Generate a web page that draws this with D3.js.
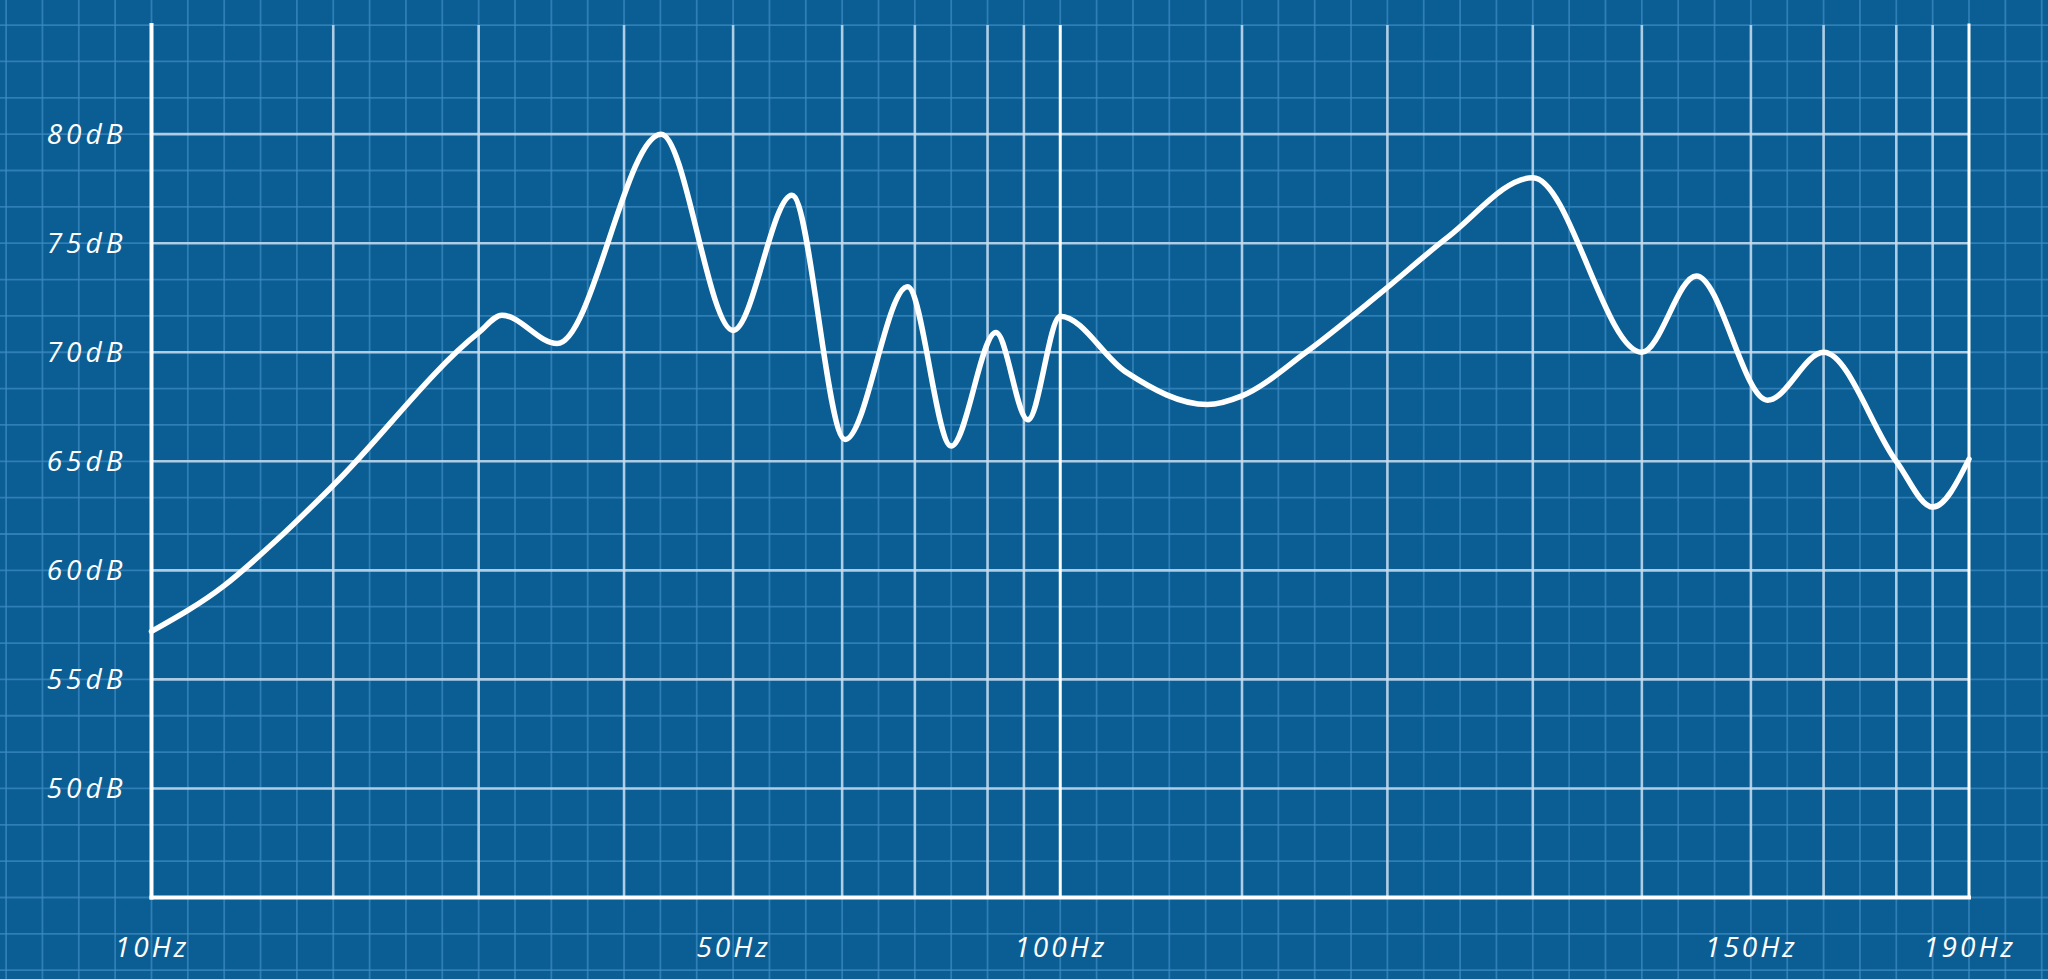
<!DOCTYPE html>
<html>
<head>
<meta charset="utf-8">
<script src="https://cdn.jsdelivr.net/npm/d3@7"></script>
<style>
  html, body { margin: 0; padding: 0; background: #0a5e93; overflow: hidden; }
  svg { display: block; }
  text { font-family: "Open Sans", "Noto Sans", sans-serif; font-style: italic; fill: #ffffff; }
</style>
</head>
<body>
<svg id="chart" width="2048" height="979"></svg>
<script>
// ---- data ----
const freqTicks   = [10, 20, 30, 40, 50, 60, 70, 80, 90, 100, 110, 120, 130, 140, 150, 160, 170, 180, 190];
const freqLabels  = [10, 50, 100, 150, 190];
const dbTicks     = [50, 55, 60, 65, 70, 75, 80];
const freqs = [10, 14, 16.9, 20, 30, 31.6, 35.4, 43.4, 50, 55.4, 60.4, 69, 75, 82.3, 91.1, 100, 103.6, 108.1, 110, 114.4, 119.5, 124.2, 130, 140, 145, 152.3, 160, 170, 180, 190];
const levels = [57.2, 59.3, 61.4, 63.9, 70.9, 71.7, 70.4, 80, 71, 77.2, 66, 73, 65.7, 70.9, 66.9, 71.65, 69.1, 67.6, 68, 70, 72.7, 75.3, 78, 70, 73.5, 67.8, 70, 65.0, 62.9, 65.1];

// ---- layout ----
const W = 2048, H = 979;
const cell = 36.35;
const plotLeft = 151.5;
// cell offsets of the frequency paper rulings (semi-log style paper)
const paperCells = [0, 5, 9, 13, 16, 19, 21, 23, 24, 25, 30, 34, 38, 41, 44, 46, 48, 49, 50];
const x = d3.scaleLinear().domain(freqTicks).range(paperCells.map(c => plotLeft + c * cell));
const plotBottom = 897.5;
const y = d3.scaleLinear().domain([45, 85]).range([plotBottom, plotBottom - 24 * cell]);
const plotRight = x(190), plotTop = y(85);

const svg = d3.select("#chart");
svg.append("rect").attr("width", W).attr("height", H).attr("fill", "#0a5e93");

// background blueprint grid
const bg = svg.append("g").attr("stroke", "#3f8cc4").attr("stroke-opacity", 0.7).attr("stroke-width", 1.8);
const kx0 = Math.ceil(-plotLeft / cell), kx1 = Math.floor((W - plotLeft) / cell);
bg.selectAll("line.v").data(d3.range(kx0, kx1 + 1)).join("line")
  .attr("x1", k => plotLeft + k * cell).attr("x2", k => plotLeft + k * cell)
  .attr("y1", 0).attr("y2", H);
const ky0 = Math.ceil(-plotTop / cell), ky1 = Math.floor((H - plotTop) / cell);
bg.selectAll("line.h").data(d3.range(ky0, ky1 + 1)).join("line")
  .attr("y1", k => plotTop + k * cell).attr("y2", k => plotTop + k * cell)
  .attr("x1", 0).attr("x2", W);

// major grid
const grid = svg.append("g");
grid.selectAll("line.vx").data(freqTicks.filter(f => f !== 10 && f !== 190 && f !== 100)).join("line")
  .attr("x1", d => x(d)).attr("x2", d => x(d)).attr("y1", plotTop).attr("y2", plotBottom)
  .attr("stroke", "#c6dcee").attr("stroke-opacity", 0.85).attr("stroke-width", 2.6);
grid.selectAll("line.hy").data(dbTicks).join("line")
  .attr("x1", plotLeft).attr("x2", plotRight).attr("y1", d => y(d)).attr("y2", d => y(d))
  .attr("stroke", "#c6dcee").attr("stroke-opacity", 0.85).attr("stroke-width", 2.6);
// 100 Hz line
grid.append("line").attr("x1", x(100)).attr("x2", x(100)).attr("y1", plotTop).attr("y2", plotBottom)
  .attr("stroke", "#ffffff").attr("stroke-width", 3);

// axes frame
const ax = svg.append("g").attr("stroke", "#ffffff").attr("stroke-width", 4).attr("stroke-linecap", "square");
ax.append("line").attr("x1", plotLeft).attr("x2", plotLeft).attr("y1", plotTop).attr("y2", plotBottom);
ax.append("line").attr("x1", plotRight).attr("x2", plotRight).attr("y1", plotTop).attr("y2", plotBottom).attr("stroke-width", 3);
ax.append("line").attr("x1", plotLeft).attr("x2", plotRight).attr("y1", plotBottom).attr("y2", plotBottom);

// axis labels via d3 axes
const yAxis = d3.axisLeft(y).tickValues(dbTicks).tickFormat(d => d + "dB").tickSize(0).tickPadding(25);
const gy = svg.append("g").attr("transform", `translate(${plotLeft},0)`).call(yAxis);
gy.select(".domain").remove();
gy.selectAll("text").attr("font-size", 28).attr("letter-spacing", 4).attr("font-family", null).attr("fill", "#ffffff");

const xAxis = d3.axisBottom(x).tickValues(freqLabels).tickFormat(d => d + "Hz").tickSize(0).tickPadding(0);
const gx = svg.append("g").attr("transform", `translate(0,${plotBottom})`).call(xAxis);
gx.select(".domain").remove();
gx.selectAll("text").attr("font-size", 28).attr("letter-spacing", 3).attr("font-family", null).attr("fill", "#ffffff")
  .attr("dy", "0.32em").attr("y", 51);

// curve
const pts = freqs.map((f, i) => [f, levels[i]]);
const line = d3.line().x(d => x(d[0])).y(d => y(d[1])).curve(d3.curveMonotoneX);
svg.append("path").datum(pts).attr("d", line)
  .attr("fill", "none").attr("stroke", "#ffffff").attr("stroke-width", 5.5)
  .attr("stroke-linejoin", "round").attr("stroke-linecap", "round");
</script>
</body>
</html>
